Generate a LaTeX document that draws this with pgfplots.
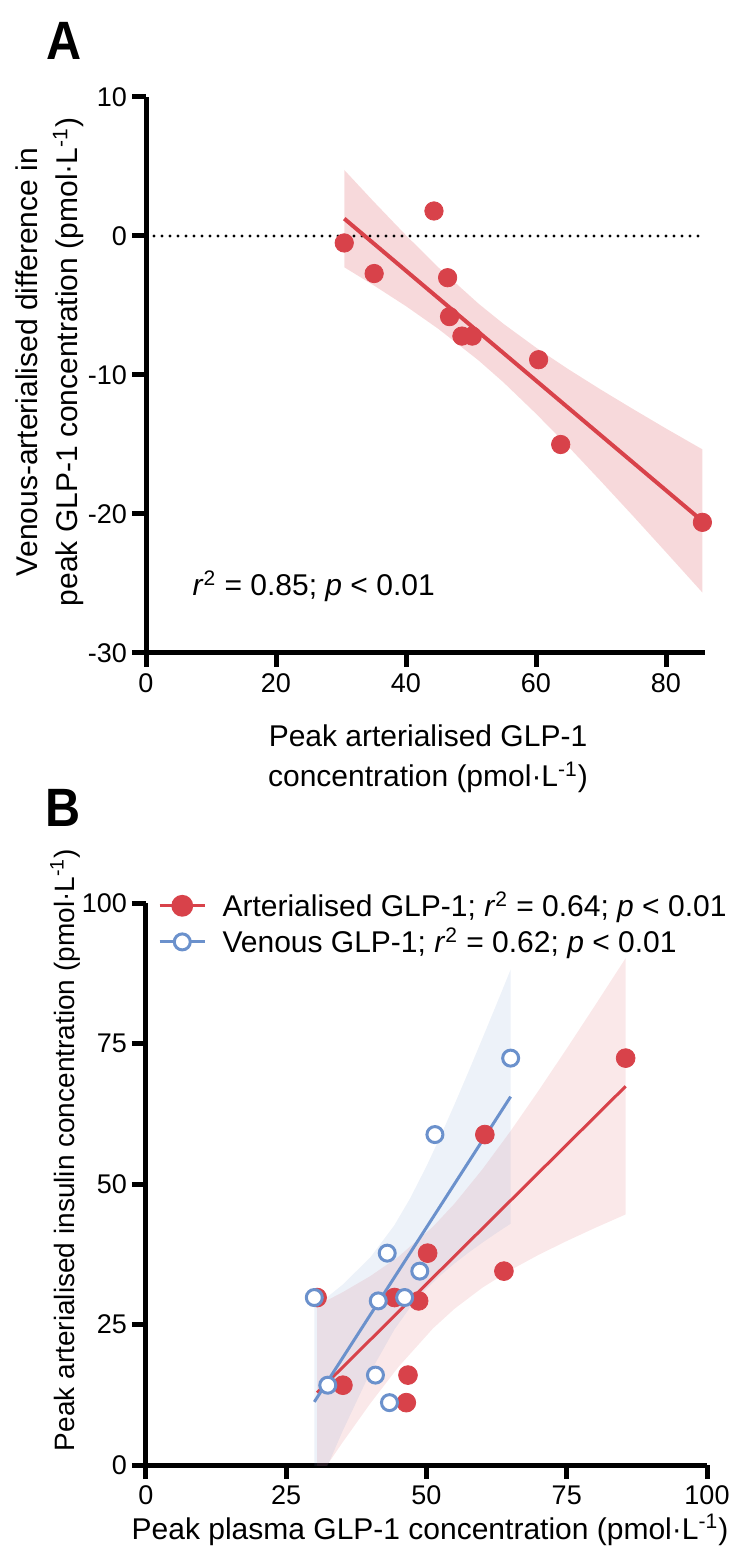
\documentclass[border=0pt]{standalone}
\usepackage{fontspec}
\setmainfont{Liberation Sans}
\usepackage{pgfplots}
\pgfplotsset{compat=1.18}
\definecolor{gred}{RGB}{216,66,74}
\definecolor{gblue}{RGB}{107,145,204}

\pgfplotsset{
  prism/.style={
    scale only axis,
    axis lines=left,
    axis line style={line width=2.5pt,-},
    tick style={line width=2.5pt,black},
    major tick length=7pt,
    tick align=outside,
    tick label style={font=\fontsize{13.5}{15}\selectfont},
    yticklabel style={xshift=1pt},
    /pgf/number format/assume math mode=true,
    clip mode=individual,
  }
}

\begin{document}
\begin{tikzpicture}
\path[use as bounding box] (0,0) rectangle (365.5pt,-781pt);

% ---- panel A
\begin{axis}[prism, at={(73pt,-48.5pt)}, anchor=north west,
  width=279.5pt, height=278pt,
  xmin=0, xmax=86, ymin=-30, ymax=10,
  xtick={0,20,...,80}, ytick={-30,-20,...,10}]
  \addplot[fill=gred, fill opacity=0.2, draw=none] coordinates {
    (30.5,4.75) (35,2.49) (40,0.05) (45,-2.27) (51.16,-4.87) (55,-6.32)
    (60,-8.03) (65,-9.59) (70,-11.06) (75,-12.47) (80,-13.85) (85.6,-15.35)
    (85.6,-25.65) (80,-22.75) (75,-20.18) (70,-17.65) (65,-15.16) (60,-12.78)
    (55,-10.53) (51.16,-8.95) (45,-6.69) (40,-5.05) (35,-3.54) (30.5,-2.25)};
  \addplot[black, line width=1.6pt, dash pattern=on 0pt off 4pt, line cap=round]
    coordinates {(0,0) (85.6,0)};
  \addplot[gred, line width=2pt] coordinates {(30.5,1.25) (85.6,-20.51)};
  \addplot[only marks, mark=*, mark size=4.6pt, gred] coordinates {
    (30.5,-0.5) (35.1,-2.7) (44.3,1.8) (46.4,-3.0) (46.7,-5.8)
    (48.6,-7.2) (50.2,-7.2) (60.4,-8.9) (63.8,-15.0) (85.6,-20.6)};
  \node[anchor=west, font=\fontsize{15}{18}\selectfont, inner sep=0pt]
    at (axis cs:7.1,-25.2) {\textit{r}\textsuperscript{2} = 0.85; \textit{p} < 0.01};
\end{axis}

% ---- panel B
\begin{axis}[prism, at={(73pt,-451.5pt)}, anchor=north west,
  width=280.5pt, height=281pt,
  xmin=0, xmax=100, ymin=0, ymax=100,
  xtick={0,25,...,100}, ytick={0,25,...,100},
  legend style={draw=none, fill=none, at={(0.01,1.035)}, anchor=north west,
    font=\fontsize{15}{18}\selectfont, row sep=0pt,
    /tikz/every odd column/.append style={column sep=6pt}},
  legend cell align=left,
  legend image code/.code={\draw[mark repeat=2, mark phase=2]
    plot coordinates {(0cm,0cm) (0.4cm,0cm) (0.8cm,0cm)};}]
  \addplot[forget plot, fill=gred, fill opacity=0.12, draw=none] coordinates {
    (30.5,28.38) (35,30.71) (40,33.62) (45,37.06) (51.15,42.40) (55,46.51)
    (60,52.66) (65,59.44) (70,66.65) (75,74.10) (80,81.71) (85.5,90.19)
    (85.5,44.59) (80,42.17) (75,39.86) (70,37.41) (65,34.70) (60,31.58)
    (55,27.81) (51.15,24.30) (45,17.46) (40,10.98) (35,3.97) (30.5,-2.62)};
  \addplot[forget plot, fill=gblue, fill opacity=0.12, draw=none] coordinates {
    (30,28.16) (32.5,30.03) (35,32.05) (40,36.95) (44.25,42.63) (47,47.30)
    (50,53.17) (52.5,58.53) (55,64.18) (57.5,70.02) (60,75.99) (62.5,82.04) (65,88.16)
    (65,42.94) (62.5,41.30) (60,39.59) (57.5,37.80) (55,35.88) (52.5,33.77)
    (50,31.37) (47,27.94) (44.25,24.07) (40,16.55) (35,5.93) (32.5,0.19) (30,-5.70)};
  \addplot[forget plot, gred, line width=1.5pt] coordinates {(30.5,12.88) (85.5,67.39)};
  \addplot[forget plot, gblue, line width=1.5pt] coordinates {(30,11.23) (65,65.55)};
  \addplot[forget plot, only marks, mark=*, mark size=4.7pt, gred] coordinates {
    (30.5,29.8) (35.1,14.2) (44.3,29.8) (46.4,11.1) (46.7,16.0)
    (48.6,29.2) (50.2,37.7) (60.4,58.8) (63.8,34.5) (85.5,72.4)};
  \addplot[forget plot, only marks, mark=*, mark size=4pt, gblue,
    mark options={fill=white, line width=1.5pt}] coordinates {
    (30.0,29.8) (32.4,14.2) (46.1,29.8) (43.4,11.1) (40.9,16.0)
    (41.4,29.2) (43.0,37.7) (51.5,58.8) (48.8,34.5) (65.0,72.4)};
  \addlegendimage{gred, line width=1.5pt, mark=*, mark size=4.7pt}
  \addlegendentry{Arterialised GLP-1; \textit{r}\textsuperscript{2} = 0.64; \textit{p} < 0.01}
  \addlegendimage{gblue, line width=1.5pt, mark=*, mark size=4pt, mark options={fill=white}}
  \addlegendentry{Venous GLP-1; \textit{r}\textsuperscript{2} = 0.62; \textit{p} < 0.01}
\end{axis}

% ---- labels
\node[font=\fontsize{27}{29}\selectfont\bfseries, xscale=0.9] at (32pt,-20.5pt) {A};
\node[font=\fontsize{27}{29}\selectfont\bfseries, xscale=0.9] at (31.5pt,-404pt) {B};
\node[align=center, font=\fontsize{15}{20}\selectfont] at (214pt,-379.5pt)
  {Peak arterialised GLP-1\\concentration (pmol·L\textsuperscript{-1})};
\node[font=\fontsize{15}{20}\selectfont] at (215pt,-765pt)
  {Peak plasma GLP-1 concentration (pmol·L\textsuperscript{-1})};
\node[rotate=90, align=center, font=\fontsize{15}{20}\selectfont] at (25pt,-181pt)
  {Venous-arterialised difference in\\peak GLP-1 concentration (pmol·L\textsuperscript{-1})};
\node[rotate=90, font=\fontsize{14}{18}\selectfont] at (32.5pt,-575pt)
  {Peak arterialised insulin concentration (pmol·L\textsuperscript{-1})};
\end{tikzpicture}
\end{document}
